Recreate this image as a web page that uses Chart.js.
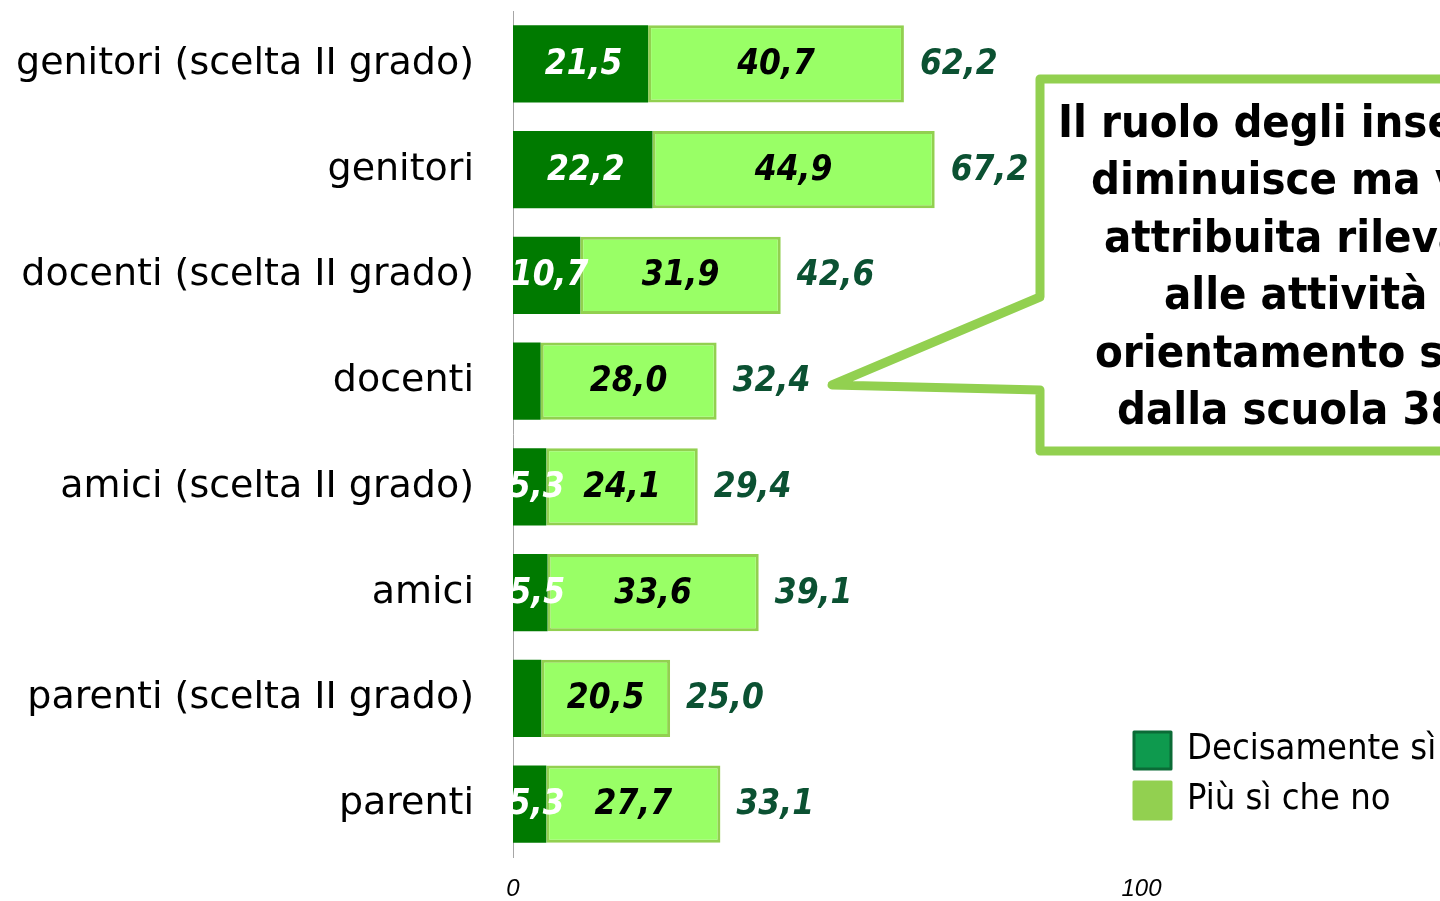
<!DOCTYPE html>
<html>
<head>
<meta charset="utf-8">
<script src="https://cdn.jsdelivr.net/npm/chart.js@4"></script>
<style>
  html, body { margin: 0; padding: 0; background: #fff; overflow: hidden; }
  canvas { display: block; }
</style>
</head>
<body>
<canvas id="chart" width="1440" height="901"></canvas>
<script>
// data
const categories = [
  'genitori (scelta II grado)',
  'genitori',
  'docenti (scelta II grado)',
  'docenti',
  'amici (scelta II grado)',
  'amici',
  'parenti (scelta II grado)',
  'parenti'
];
const decisamenteSi = [21.5, 22.2, 10.7, 4.4, 5.3, 5.5, 4.5, 5.3];
const piuSiCheNo = [40.7, 44.9, 31.9, 28.0, 24.1, 33.6, 20.5, 27.7];
const totals = [62.2, 67.2, 42.6, 32.4, 29.4, 39.1, 25.0, 33.1];
const seriesNames = ['Decisamente sì', 'Più sì che no'];
const xTicks = [0, 100];
const calloutLines = [
  'Il ruolo degli insegnanti',
  'diminuisce ma viene',
  'attribuita rilevanza',
  'alle attività di',
  'orientamento svolto',
  'dalla scuola 38%'
];

const FONT = '"DejaVu Sans Condensed", "Noto Sans", sans-serif';
const FONT_WIDE = '"DejaVu Sans", "Noto Sans", sans-serif';
const fmt = v => v.toFixed(1).replace('.', ',');

const labelsPlugin = {
  id: 'barLabels',
  afterDatasetsDraw(chart) {
    const ctx = chart.ctx;
    const dark = chart.getDatasetMeta(0).data;
    const light = chart.getDatasetMeta(1).data;
    ctx.save();
    ctx.font = 'italic bold 35px ' + FONT;
    ctx.textBaseline = 'middle';
    dark.forEach((bar, i) => {
      if (decisamenteSi[i] < 5) return;
      ctx.fillStyle = '#ffffff';
      ctx.textAlign = 'center';
      const shift = decisamenteSi[i] < 8 ? 7 : 3;
      ctx.fillText(fmt(decisamenteSi[i]), (bar.base + bar.x) / 2 + shift, bar.y + 1);
    });
    light.forEach((bar, i) => {
      ctx.fillStyle = '#000000';
      ctx.textAlign = 'center';
      ctx.fillText(fmt(piuSiCheNo[i]), (bar.base + bar.x) / 2, bar.y + 1);
      ctx.fillStyle = '#0b5132';
      ctx.textAlign = 'left';
      ctx.fillText(fmt(totals[i]), bar.x + 16, bar.y + 1);
    });
    ctx.restore();
  }
};

const calloutPlugin = {
  id: 'callout',
  afterDraw(chart) {
    const ctx = chart.ctx;
    ctx.save();
    // speech bubble
    ctx.beginPath();
    ctx.moveTo(1040, 297);
    ctx.lineTo(1040, 79);
    ctx.lineTo(1480, 79);
    ctx.lineTo(1480, 451);
    ctx.lineTo(1040, 451);
    ctx.lineTo(1040, 390);
    ctx.lineTo(832, 385);
    ctx.closePath();
    ctx.fillStyle = '#ffffff';
    ctx.fill();
    ctx.lineWidth = 9;
    ctx.lineJoin = 'round';
    ctx.strokeStyle = '#92d050';
    ctx.stroke();

    ctx.fillStyle = '#000000';
    ctx.font = 'bold 45px ' + FONT;
    ctx.textAlign = 'left';
    ctx.textBaseline = 'middle';
    const starts = [1058, 1091, 1104, 1164, 1095, 1117];
    calloutLines.forEach((t, i) => {
      ctx.fillText(t, starts[i], 125 + i * 57.5);
    });

    // legend
    const sw = [['#0e9a4e', '#0b6b36'], ['#92d050', '#92d050']];
    ctx.font = '36px ' + FONT;
    seriesNames.forEach((name, i) => {
      const y = 732 + i * 50;
      ctx.fillStyle = sw[i][0];
      ctx.fillRect(1134, y, 37, 37);
      ctx.lineWidth = 3;
      ctx.strokeStyle = sw[i][1];
      ctx.strokeRect(1134, y, 37, 37);
      ctx.fillStyle = '#000000';
      ctx.fillText(name, 1187, y + 18);
    });
    ctx.restore();
  }
};

new Chart(document.getElementById('chart'), {
  type: 'bar',
  data: {
    labels: categories,
    datasets: [
      {
        label: seriesNames[0],
        data: decisamenteSi,
        backgroundColor: '#007a00',
        borderWidth: 0
      },
      {
        label: seriesNames[1],
        data: piuSiCheNo,
        backgroundColor: '#99ff66',
        borderColor: '#92d050',
        borderWidth: 3,
        borderSkipped: false
      }
    ]
  },
  plugins: [labelsPlugin, calloutPlugin],
  options: {
    indexAxis: 'y',
    responsive: false,
    animation: false,
    layout: { padding: { top: 11, right: 0, left: 0, bottom: 0 } },
    datasets: {
      bar: { barPercentage: 0.73, categoryPercentage: 1 }
    },
    plugins: {
      legend: { display: false },
      tooltip: { enabled: false }
    },
    scales: {
      x: {
        stacked: true,
        min: 0,
        max: 147.5,
        grid: { display: false, drawTicks: false },
        border: { display: false },
        afterBuildTicks: scale => { scale.ticks = xTicks.map(v => ({ value: v })); },
        afterFit: scale => {
          scale.height = 44;
          scale.paddingLeft = 0;
          scale.paddingRight = 0;
        },
        ticks: {
          color: '#000',
          padding: 18,
          maxRotation: 0,
          font: { family: '"Liberation Sans", Arial, sans-serif', size: 24, style: 'italic' }
        }
      },
      y: {
        stacked: true,
        grid: { display: false, drawTicks: false },
        border: { display: true, color: '#a6a6a6', width: 1 },
        afterFit: scale => {
          scale.width = 513;
          scale.paddingTop = 0;
          scale.paddingBottom = 0;
        },
        ticks: {
          color: '#000',
          padding: 39,
          font: { family: FONT_WIDE, size: 38 }
        }
      }
    }
  }
});
</script>
</body>
</html>
